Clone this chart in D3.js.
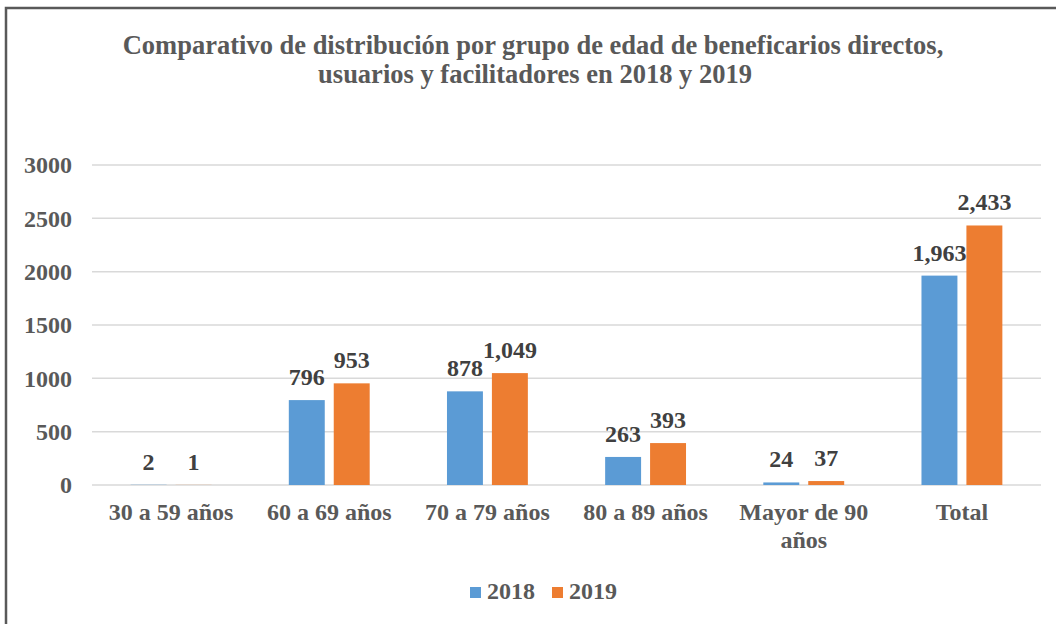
<!DOCTYPE html>
<html>
<head>
<meta charset="utf-8">
<script src="https://cdn.jsdelivr.net/npm/d3@7"></script>
<style>
  body { margin: 0; background: #fff; }
  text { font-family: "Liberation Serif", "Times New Roman", serif; font-weight: bold; }
</style>
</head>
<body>
<div id="chart"></div>
<script>
// chart data
const categories = ["30 a 59 años", "60 a 69 años", "70 a 79 años", "80 a 89 años", "Mayor de 90 años", "Total"];
const years = ["2018", "2019"];
const values2018 = [2, 796, 878, 263, 24, 1963];
const values2019 = [1, 953, 1049, 393, 37, 2433];
const yTicks = [0, 500, 1000, 1500, 2000, 2500, 3000];

const width = 1056, height = 624;
const margin = {top: 165, right: 15, bottom: 139, left: 92};
const colors = {"2018": "#5b9bd5", "2019": "#ed7d31"};

const svg = d3.select("#chart")
  .append("svg")
    .attr("width", width)
    .attr("height", height);

// outer frame
svg.append("rect")
  .attr("x", 6).attr("y", 8)
  .attr("width", 1100).attr("height", 700)
  .attr("fill", "none")
  .attr("stroke", "#595959")
  .attr("stroke-width", 2.5);

// title
svg.append("text")
  .attr("x", 533).attr("y", 54)
  .attr("text-anchor", "middle")
  .attr("fill", "#595959")
  .style("font-size", "26.5px")
  .text("Comparativo de distribución por grupo de edad de beneficarios directos,");
svg.append("text")
  .attr("x", 535).attr("y", 83)
  .attr("text-anchor", "middle")
  .attr("fill", "#595959")
  .style("font-size", "26.5px")
  .text("usuarios y facilitadores en 2018 y 2019");

const x0 = d3.scaleBand()
  .domain(categories)
  .range([margin.left, width - margin.right]);

const x1 = d3.scaleBand()
  .domain(years)
  .range([0, x0.bandwidth()])
  .paddingInner(0.2)
  .paddingOuter(0.86);

const y = d3.scaleLinear()
  .domain([0, 3000])
  .range([height - margin.bottom, margin.top]);

// gridlines
svg.append("g")
  .selectAll("line")
  .data(yTicks)
  .join("line")
    .attr("x1", margin.left)
    .attr("x2", width - margin.right)
    .attr("y1", d => y(d))
    .attr("y2", d => y(d))
    .attr("stroke", "#d9d9d9")
    .attr("stroke-width", 1.5);

// y axis labels
const yAxis = svg.append("g")
  .attr("transform", `translate(${margin.left - 20},0)`)
  .call(d3.axisLeft(y).tickValues(yTicks).tickSize(0).tickPadding(0).tickFormat(d3.format("d")));
yAxis.select(".domain").remove();
yAxis.selectAll("text")
  .attr("fill", "#595959")
  .style("font-size", "24px")
  .style("font-family", "Liberation Serif, serif")
  .style("font-weight", "bold");

// x axis labels (wrapped)
const xAxis = svg.append("g")
  .attr("transform", `translate(0,${height - margin.bottom})`)
  .call(d3.axisBottom(x0).tickSize(0).tickPadding(0));
xAxis.select(".domain").remove();
xAxis.selectAll("text")
  .attr("fill", "#595959")
  .style("font-size", "24px")
  .style("font-family", "Liberation Serif, serif")
  .style("font-weight", "bold")
  .attr("dy", null)
  .attr("y", 35)
  .each(function(d) {
    const t = d3.select(this);
    if (d === "Mayor de 90 años") {
      t.text(null);
      t.append("tspan").attr("x", 0).attr("dy", 0).text("Mayor de 90");
      t.append("tspan").attr("x", 0).attr("dy", 28).text("años");
    }
  });

// bars
const rows = categories.map((c, i) => ({cat: c, vals: [
  {year: "2018", value: values2018[i]},
  {year: "2019", value: values2019[i]}
]}));

const groups = svg.append("g")
  .selectAll("g")
  .data(rows)
  .join("g")
    .attr("transform", d => `translate(${x0(d.cat)},0)`);

groups.selectAll("rect")
  .data(d => d.vals)
  .join("rect")
    .attr("x", d => x1(d.year))
    .attr("y", d => y(d.value))
    .attr("width", x1.bandwidth())
    .attr("height", d => y(0) - y(d.value))
    .attr("fill", d => colors[d.year]);

groups.selectAll("text")
  .data(d => d.vals)
  .join("text")
    .attr("x", d => x1(d.year) + x1.bandwidth() / 2)
    .attr("y", d => y(d.value) - 15)
    .attr("text-anchor", "middle")
    .attr("fill", "#404040")
    .style("font-size", "24px")
    .text(d => d3.format(",")(d.value));

// legend
const legend = svg.append("g")
  .selectAll("g")
  .data(years)
  .join("g")
    .attr("transform", (d, i) => `translate(${470 + i * 82},587)`);
legend.append("rect")
  .attr("width", 11).attr("height", 11)
  .attr("fill", d => colors[d]);
legend.append("text")
  .attr("x", 17).attr("y", 12)
  .attr("fill", "#595959")
  .style("font-size", "24px")
  .text(d => d);
</script>
</body>
</html>
